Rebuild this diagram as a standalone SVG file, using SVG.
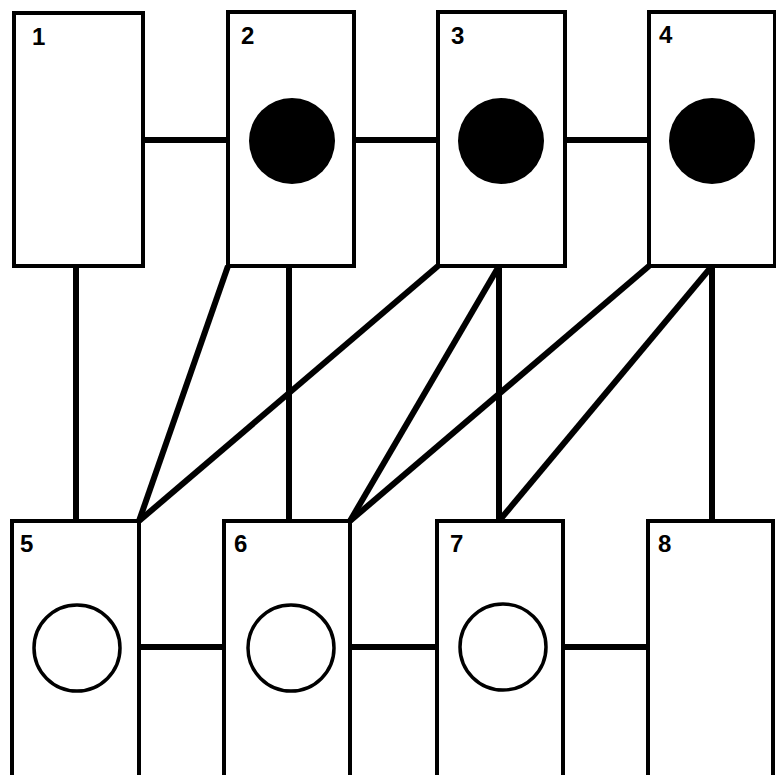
<svg xmlns="http://www.w3.org/2000/svg" width="776" height="775" viewBox="0 0 776 775">
<style>
.box{fill:#fff;stroke:#000;stroke-width:4}
.lbl{font-family:"Liberation Sans",Arial,sans-serif;font-weight:bold;font-size:24px;fill:#000}
.full{fill:#000}
.empty{fill:none;stroke:#000;stroke-width:3.5}
.c{stroke:#000;stroke-width:6;fill:none;stroke-linecap:butt}
</style>
<rect width="776" height="775" fill="#fff"/>
<g id="connectors">
<line class="c" x1="143" y1="140" x2="228" y2="140"/>
<line class="c" x1="354" y1="140" x2="438" y2="140"/>
<line class="c" x1="565" y1="140" x2="649" y2="140"/>
<line class="c" x1="139" y1="647" x2="224" y2="647"/>
<line class="c" x1="350" y1="647" x2="437" y2="647"/>
<line class="c" x1="563" y1="647" x2="648" y2="647"/>
<line class="c" x1="76" y1="266" x2="76" y2="521"/>
<line class="c" x1="289" y1="266" x2="289" y2="521"/>
<line class="c" x1="499" y1="266" x2="499" y2="521"/>
<line class="c" x1="712" y1="266" x2="712" y2="521"/>
<line class="c" x1="228" y1="266" x2="139" y2="521"/>
<line class="c" x1="438" y1="266" x2="139" y2="521"/>
<line class="c" x1="499" y1="266" x2="350" y2="521"/>
<line class="c" x1="649" y1="266" x2="350" y2="521"/>
<line class="c" x1="712" y1="266" x2="499" y2="521"/>
</g>
<g id="n1"><rect class="box" x="14" y="13" width="129" height="253"/><text class="lbl" x="32" y="45">1</text></g>
<g id="n2"><rect class="box" x="228" y="12" width="126" height="254"/><text class="lbl" x="241" y="44">2</text><circle class="full" cx="292" cy="141" r="43"/></g>
<g id="n3"><rect class="box" x="438" y="12" width="127" height="254"/><text class="lbl" x="451" y="44">3</text><circle class="full" cx="501" cy="141" r="43"/></g>
<g id="n4"><rect class="box" x="649" y="12" width="126" height="254"/><text class="lbl" x="659" y="43">4</text><circle class="full" cx="712" cy="141" r="43"/></g>
<g id="n5"><rect class="box" x="12" y="521" width="127" height="260"/><text class="lbl" x="20" y="552">5</text><circle class="empty" cx="77" cy="648" r="43"/></g>
<g id="n6"><rect class="box" x="224" y="521" width="126" height="260"/><text class="lbl" x="234" y="552">6</text><circle class="empty" cx="291" cy="648" r="43"/></g>
<g id="n7"><rect class="box" x="437" y="521" width="126" height="260"/><text class="lbl" x="450" y="552">7</text><circle class="empty" cx="503" cy="647" r="43"/></g>
<g id="n8"><rect class="box" x="648" y="521" width="125" height="260"/><text class="lbl" x="658" y="552">8</text></g>
</svg>
